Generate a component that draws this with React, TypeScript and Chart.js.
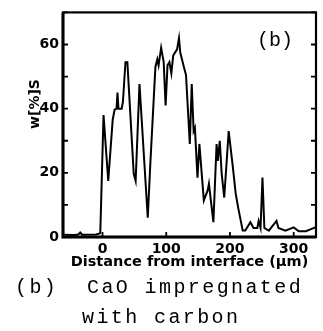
import { useEffect, useRef } from 'react';
import { Chart, registerables } from 'chart.js';

Chart.register(...registerables);

const distance = [-62, -45, -38, -35, -32, -10, -6, -3.5, 1.6, 9, 16, 19, 22, 23.5, 25, 30, 32, 36, 39, 49, 52, 58, 71, 75, 83, 86, 88, 92, 96, 99, 102, 105, 108, 111, 117, 120, 122, 127, 131, 137, 140, 143, 145, 149, 152, 159, 165, 167, 170, 174, 179, 181, 184, 187, 191, 198, 204, 209, 213, 220, 224, 232, 237, 243, 245, 248, 251, 254, 261, 273, 276, 287, 300, 308, 319, 334];
const sulfur = [0.7, 0.6, 0.8, 1.4, 0.7, 0.8, 1.0, 1.2, 38, 17.5, 36.6, 39.7, 40, 45, 40, 40, 42, 54.5, 54.5, 19.7, 17.5, 47.7, 6, 22.7, 53, 55.4, 53.5, 59, 54.5, 41, 53.5, 54.5, 51, 56.6, 58.5, 62, 57.5, 53.5, 50.5, 29, 47.7, 33, 34, 18.5, 29, 11.4, 14.5, 16.6, 11.4, 4.6, 29, 23.7, 30, 19.7, 12.3, 33, 22.7, 13.5, 9, 2, 2, 4.6, 2.8, 2.8, 5, 2.8, 18.5, 2.8, 2, 5, 2.8, 2, 3, 1.8, 1.8, 3];

const xTickValues = [0, 100, 200, 300];
const yLabelValues = [0, 20, 40, 60];
const yMinorValues = [0, 10, 20, 30, 40, 50, 60, 70];
const xTitle = 'Distance from interface (µm)';
const yTitle = 'w[%]S';
const panelLabel = '(b)';
const captionLines = ['(b)  CaO impregnated', 'with carbon'];

const framePlugin = {
  id: 'frame',
  afterDraw(chart: any) {
    const { ctx, chartArea: a, scales } = chart;
    ctx.save();
    ctx.strokeStyle = '#000';
    ctx.lineWidth = 2.2;
    ctx.strokeRect(a.left, a.top, a.right - a.left, a.bottom - a.top);
    ctx.lineWidth = 3;
    ctx.beginPath();
    ctx.moveTo(a.left, a.top);
    ctx.lineTo(a.left, a.bottom);
    ctx.lineTo(a.right, a.bottom);
    ctx.stroke();
    ctx.lineWidth = 1.8;
    ctx.beginPath();
    for (const v of yMinorValues) {
      const y = scales.y.getPixelForValue(v);
      ctx.moveTo(a.left, y);
      ctx.lineTo(a.left + 5, y);
      ctx.moveTo(a.right, y);
      ctx.lineTo(a.right - 5, y);
    }
    for (const v of xTickValues) {
      const x = scales.x.getPixelForValue(v);
      ctx.moveTo(x, a.bottom);
      ctx.lineTo(x, a.bottom - 5);
    }
    ctx.stroke();
    ctx.fillStyle = '#000';
    ctx.font = 'bold 14px "DejaVu Sans"';
    ctx.textAlign = 'center';
    ctx.textBaseline = 'middle';
    ctx.translate(35, 104);
    ctx.rotate(-Math.PI / 2);
    ctx.fillText(yTitle, 0, 0);
    ctx.restore();
    ctx.save();
    ctx.fillStyle = '#000';
    ctx.font = '20px "Liberation Mono"';
    ctx.textAlign = 'center';
    ctx.textBaseline = 'middle';
    ctx.fillText(panelLabel, 275, 41);
    ctx.restore();
  },
};

export default function App() {
  const ref = useRef<HTMLCanvasElement>(null);
  useEffect(() => {
    if (!ref.current) return;
    const tickFont = { family: 'DejaVu Sans', weight: 'bold' as const, size: 14 };
    const chart = new Chart(ref.current, {
      type: 'line',
      data: {
        datasets: [
          {
            data: distance.map((x, i) => ({ x, y: sulfur[i] })),
            borderColor: '#000',
            borderWidth: 2,
            pointRadius: 0,
            tension: 0,
            fill: false,
          },
        ],
      },
      options: {
        responsive: false,
        animation: false,
        devicePixelRatio: 1,
        layout: { padding: { left: 0, top: 10, right: 7, bottom: 54 } },
        plugins: { legend: { display: false }, tooltip: { enabled: false } },
        scales: {
          x: {
            type: 'linear',
            min: -62,
            max: 335,
            afterBuildTicks: (s: any) => {
              s.ticks = xTickValues.map((v) => ({ value: v }));
            },
            afterFit: (s: any) => {
              s.height = 40;
            },
            grid: { display: false, drawTicks: false },
            border: { display: false },
            ticks: { color: '#000', font: tickFont, padding: 4, maxRotation: 0, autoSkip: false },
            title: {
              display: true,
              text: xTitle,
              color: '#000',
              font: { family: 'DejaVu Sans', weight: 'bold', size: 14.5 },
              padding: { top: 0, bottom: 6 },
            },
          },
          y: {
            type: 'linear',
            min: 0,
            max: 70,
            afterBuildTicks: (s: any) => {
              s.ticks = yLabelValues.map((v) => ({ value: v }));
            },
            afterFit: (s: any) => {
              s.width = 63;
            },
            grid: { display: false, drawTicks: false },
            border: { display: false },
            ticks: { color: '#000', font: tickFont, padding: 4, autoSkip: false },
          },
        },
      },
      plugins: [framePlugin],
    });
    return () => chart.destroy();
  }, []);

  const capStyle: any = {
    position: 'absolute',
    fontFamily: '"Liberation Mono", monospace',
    fontSize: 20,
    letterSpacing: '2.4px',
    lineHeight: '24px',
    whiteSpace: 'pre',
    color: '#000',
  };

  return (
    <div style={{ position: 'fixed', left: 0, top: 0, width: 323, height: 331, background: '#fff' }}>
      <canvas ref={ref} width={323} height={331} style={{ display: 'block', width: 323, height: 331 }} />
      <div style={{ ...capStyle, left: 15, top: 276 }}>{captionLines[0]}</div>
      <div style={{ ...capStyle, left: 82, top: 306 }}>{captionLines[1]}</div>
    </div>
  );
}
